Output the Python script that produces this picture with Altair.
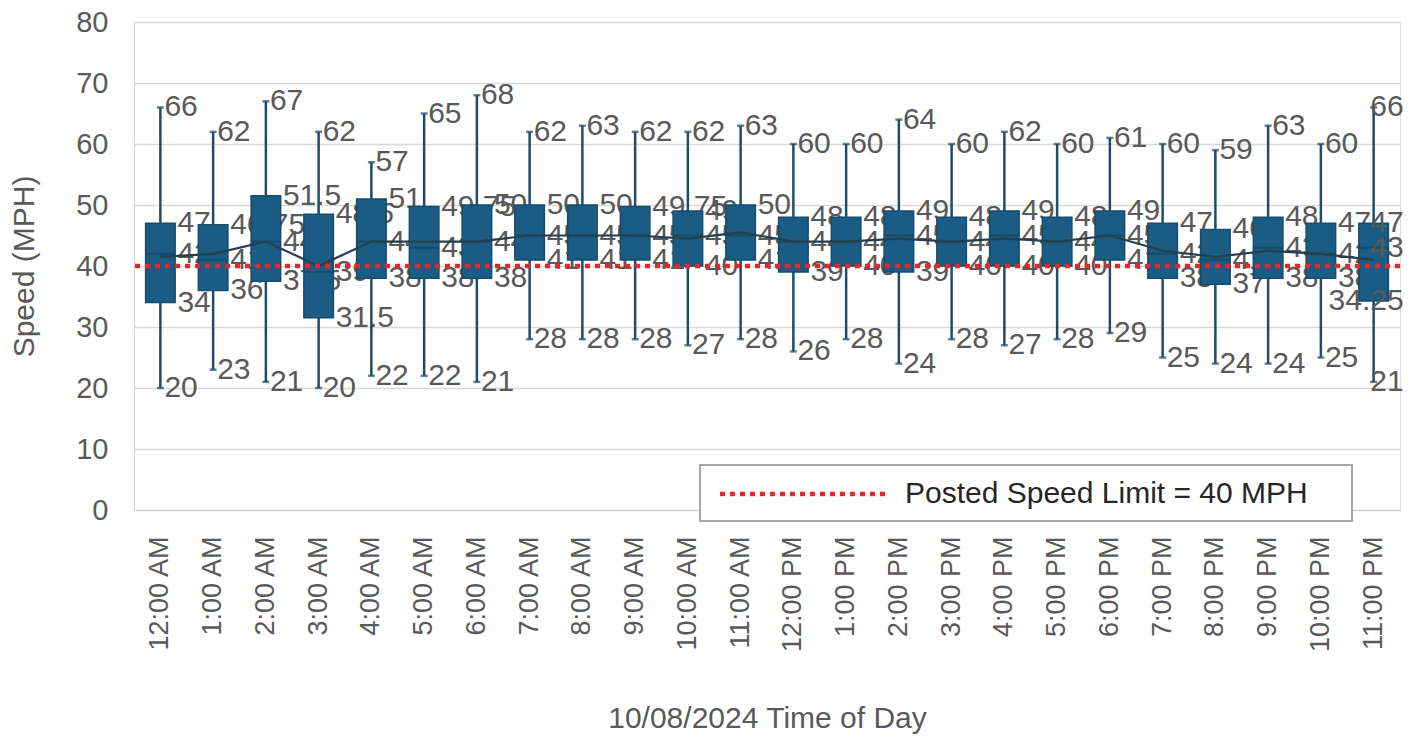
import altair as alt
import pandas as pd

hours = ["12:00 AM", "1:00 AM", "2:00 AM", "3:00 AM", "4:00 AM", "5:00 AM",
         "6:00 AM", "7:00 AM", "8:00 AM", "9:00 AM", "10:00 AM", "11:00 AM",
         "12:00 PM", "1:00 PM", "2:00 PM", "3:00 PM", "4:00 PM", "5:00 PM",
         "6:00 PM", "7:00 PM", "8:00 PM", "9:00 PM", "10:00 PM", "11:00 PM"]
mins = [20, 23, 21, 20, 22, 22, 21, 28, 28, 28, 27, 28,
        26, 28, 24, 28, 27, 28, 29, 25, 24, 24, 25, 21]
q1s = [34, 36, 37.5, 31.5, 38, 38, 38, 41, 41, 41, 40, 41,
       39, 40, 39, 40, 40, 40, 41, 38, 37, 38, 38, 34.25]
medians = [42, 41, 44, 39, 44, 43, 44, 45, 45, 45, 45, 45,
           44, 44, 45, 44, 45, 44, 45, 42, 41, 43, 42, 43]
q3s = [47, 46.75, 51.5, 48.5, 51, 49.75, 50, 50, 50, 49.75, 49, 50,
       48, 48, 49, 48, 49, 48, 49, 47, 46, 48, 47, 47]
maxs = [66, 62, 67, 62, 57, 65, 68, 62, 63, 62, 62, 63,
        60, 60, 64, 60, 62, 60, 61, 60, 59, 63, 60, 66]
means = [41.5, 42, 44, 40, 44, 44, 44, 45, 45, 45, 44.5, 45.5,
         44, 44, 44.5, 44, 44.5, 44, 45, 42.5, 41.5, 42.5, 42, 41]
speed_limit = [40]
limit_label = ["Posted Speed Limit = 40 MPH"]

df = pd.DataFrame({"hour": hours, "min": mins, "q1": q1s, "median": medians,
                   "q3": q3s, "max": maxs, "mean": means})
limit_df = pd.DataFrame({"y": speed_limit, "label": limit_label})
LAST = hours[-1]

FONT = "Liberation Sans"
GRAY = "#595959"
BOX = "#1A5C83"
WHISK = "#1F4D68"
RED = "#E0282D"

x_enc = alt.X("hour:N", sort=hours,
              scale=alt.Scale(paddingInner=0, paddingOuter=0),
              axis=alt.Axis(title="10/08/2024 Time of Day", labelAngle=-90,
                            labelFontSize=27, labelColor=GRAY, labelFont=FONT,
                            labelPadding=26, ticks=False, domain=True,
                            domainColor="#D0D0D0", titleFontSize=30,
                            titleFont=FONT, titleColor=GRAY, titleFontWeight="normal",
                            titleY=208, titleBaseline="middle"))
y_scale = alt.Scale(domain=[0, 80], nice=False)
y_axis = alt.Axis(title="Speed (MPH)", values=list(range(0, 81, 10)),
                  labelFontSize=29, labelColor=GRAY, labelFont=FONT,
                  labelPadding=26, ticks=False, domain=True, domainColor="#D0D0D0",
                  grid=True, gridColor="#D9D9D9", gridWidth=1.5,
                  titleFontSize=30, titleFont=FONT, titleColor=GRAY,
                  titleFontWeight="normal", titleX=-110, titleY=244,
                  titleAngle=-90, titleAlign="center", titleBaseline="middle")

base = alt.Chart(df)
txt = dict(baseline="middle", fontSize=30, font=FONT, color=GRAY)

ext_labels = base.transform_fold(["min", "max"], as_=["stat", "val"]).transform_filter(
    alt.datum.hour != LAST
).mark_text(align="left", dx=4, **txt).encode(
    x=x_enc, y=alt.Y("val:Q", scale=y_scale, axis=y_axis),
    text=alt.Text("val:Q", format=".4~r"))

box_labels = base.transform_fold(["q1", "median", "q3"], as_=["stat", "val"]).transform_filter(
    alt.datum.hour != LAST
).mark_text(align="left", dx=17, **txt).encode(
    x=x_enc, y=alt.Y("val:Q", scale=y_scale, axis=y_axis),
    text=alt.Text("val:Q", format=".4~r"))

last_labels = base.transform_fold(["min", "q1", "median", "q3", "max"],
                                  as_=["stat", "val"]).transform_filter(
    alt.datum.hour == LAST
).mark_text(align="right", dx=30, **txt).encode(
    x=x_enc, y=alt.Y("val:Q", scale=y_scale, axis=y_axis),
    text=alt.Text("val:Q", format=".4~r"))

whiskers = base.mark_rule(color=WHISK, strokeWidth=2.5).encode(
    x=x_enc, y=alt.Y("min:Q", scale=y_scale, axis=y_axis), y2="max:Q")

caps = base.transform_fold(["min", "max"], as_=["stat", "val"]).mark_tick(
    color=WHISK, size=7, thickness=2.5, orient="horizontal"
).encode(x=x_enc, y=alt.Y("val:Q", scale=y_scale, axis=y_axis))

boxes = base.mark_bar(width=alt.RelativeBandSize(0.56), color=BOX,
                      stroke="#164C6C", strokeWidth=1.5).encode(
    x=x_enc, y=alt.Y("q1:Q", scale=y_scale, axis=y_axis), y2="q3:Q")

median_ticks = base.mark_tick(color="#15435F", size=29, thickness=2,
                              orient="horizontal").encode(
    x=x_enc, y=alt.Y("median:Q", scale=y_scale, axis=y_axis))

mean_line = base.mark_line(color="#263F4F", strokeWidth=2.2).encode(
    x=x_enc, y=alt.Y("mean:Q", scale=y_scale, axis=y_axis))

limit_rule = alt.Chart(limit_df).mark_rule(
    strokeWidth=4.5, strokeDash=[5, 5], strokeCap="butt", color=RED
).encode(y=alt.Y("y:Q", scale=y_scale, axis=y_axis))

# legend (drawn inside the plot area, as in the reference)
legend_box = alt.Chart(limit_df).mark_rect(
    fill="white", stroke="#A6A6A6", strokeWidth=2
).encode(x=alt.value(566), x2=alt.value(1218), y=alt.value(443), y2=alt.value(499))
legend_sym = alt.Chart(limit_df).mark_rule(
    strokeWidth=4.5, strokeDash=[5, 5], strokeCap="butt", color=RED
).encode(x=alt.value(586), x2=alt.value(751), y=alt.value(472))
legend_txt = alt.Chart(limit_df).mark_text(
    align="left", baseline="middle", fontSize=30, font=FONT, color="#262626"
).encode(x=alt.value(771), y=alt.value(472), text="label:N")

chart = alt.layer(ext_labels, box_labels, whiskers, caps, boxes,
                  median_ticks, mean_line, last_labels, limit_rule,
                  legend_box, legend_sym, legend_txt).properties(
    width=1266, height=488,
    autosize=alt.AutoSizeParams(type="none"),
    padding={"left": 126, "top": 14, "right": 16, "bottom": 232},
).configure_view(stroke=None).configure(background="white")

chart.save("out.html", embed_options={"renderer": "svg", "actions": False})
